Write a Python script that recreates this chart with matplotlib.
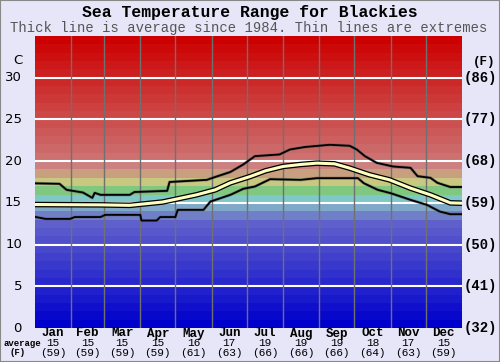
import matplotlib
matplotlib.use("Agg")
import matplotlib.pyplot as plt
import matplotlib.patheffects as pe
import numpy as np

title = "Sea Temperature Range for Blackies"
subtitle = "Thick line is average since 1984. Thin lines are extremes"
months = ["Jan", "Feb", "Mar", "Apr", "May", "Jun", "Jul", "Aug", "Sep", "Oct", "Nov", "Dec"]
month_avg_c = [15, 15, 15, 15, 16, 17, 19, 19, 19, 18, 17, 15]
month_avg_f = [59, 59, 59, 59, 61, 63, 66, 66, 66, 64, 63, 59]
month_days = [31, 28, 31, 30, 31, 30, 31, 31, 30, 31, 30, 31]
c_ticks = [0, 5, 10, 15, 20, 25, 30]
f_ticks = ["(32)", "(41)", "(50)", "(59)", "(68)", "(77)", "(86)"]

max_day = [0, 21, 27, 41, 49, 51, 56, 81, 85, 113, 115, 147, 154, 167, 178, 188, 209, 218,
           231, 252, 269, 275, 282, 292, 306, 321, 327, 338, 344, 355, 365]
max_temp = [17.34, 17.28, 16.56, 16.24, 15.6, 16.2, 15.96, 15.96, 16.3, 16.44, 17.5, 17.76,
            18.1, 18.7, 19.6, 20.6, 20.8, 21.4, 21.7, 21.96, 21.84, 21.4, 20.6, 19.8, 19.36,
            19.2, 18.2, 18.0, 17.4, 16.9, 16.9]

avg_day = [0, 56, 81, 109, 138, 154, 167, 184, 197, 212, 227, 241, 256, 269, 286, 303, 321,
           338, 355, 365]
avg_temp = [14.8, 14.76, 14.7, 15.1, 15.96, 16.56, 17.4, 18.16, 18.84, 19.36, 19.6, 19.76,
            19.68, 19.16, 18.36, 17.76, 16.76, 15.96, 15.0, 14.96]

min_day = [0, 9, 30, 34, 56, 60, 90, 91, 104, 107, 120, 122, 144, 150, 167, 178, 188, 201,
           227, 241, 276, 281, 293, 304, 321, 335, 346, 355, 365]
min_temp = [13.32, 13.08, 13.08, 13.3, 13.3, 13.56, 13.56, 12.88, 12.88, 13.3, 13.3, 14.16,
            14.16, 15.16, 15.96, 16.68, 16.96, 17.84, 17.76, 17.96, 17.96, 17.36, 16.56, 16.16,
            15.36, 14.76, 13.96, 13.64, 13.64]


def band_color(t):
    if t < 13:
        v = 8 * t
        return (v / 255, v / 255, 204 / 255)
    special = {13: (112, 128, 200), 14: (128, 168, 200), 15: (128, 200, 200),
               16: (128, 200, 128), 17: (200, 200, 128), 18: (200, 160, 128),
               19: (204, 128, 128)}
    if t in special:
        r, g, b = special[t]
        return (r / 255, g / 255, b / 255)
    g = max(0, 112 - (t - 20) * 8)
    return (204 / 255, g / 255, g / 255)


bg = "#e6e6f8"
fig = plt.figure(figsize=(5.0, 3.62), dpi=100, facecolor=bg)
ax = fig.add_axes([35 / 500, 34 / 362, 427 / 500, 292 / 362])
ax.set_xlim(0, 365)
ax.set_ylim(0, 35)

for t in range(35):
    ax.axhspan(t, t + 1, color=band_color(t), lw=0, zorder=0)

for t in c_ticks[1:]:
    ax.axhline(t, color="white", lw=1.5, zorder=1)

bounds = np.cumsum(month_days)[:-1]
for b in bounds:
    ax.axvline(b, color="#707070", lw=1, zorder=1)

ax.plot(max_day, max_temp, color="black", lw=1.3, zorder=3,
        path_effects=[pe.Stroke(linewidth=2.2, foreground="#555555", alpha=0.5), pe.Normal()])
ax.plot(min_day, min_temp, color="black", lw=1.3, zorder=3,
        path_effects=[pe.Stroke(linewidth=2.2, foreground="#555555", alpha=0.5), pe.Normal()])
ax.plot(avg_day, avg_temp, color="#ffffc0", lw=2.2, zorder=4,
        path_effects=[pe.Stroke(linewidth=4.0, foreground="black"), pe.Normal()])

ax.set_xticks([])
ax.set_yticks([])
for s in ax.spines.values():
    s.set_visible(False)

# left C labels
for t in c_ticks:
    y = ax.transData.transform((0, t))[1]
    fig.text(22 / 500, y / 362, str(t), ha="right", va="center", fontsize=9.5,
             family="DejaVu Sans", color="black")
fig.text(18 / 500, (362 - 61) / 362, "C", ha="center", va="center", fontsize=9.5,
         family="DejaVu Sans")
# right F labels
for t, lab in zip(c_ticks, f_ticks):
    y = ax.transData.transform((0, t))[1]
    fig.text(464 / 500, y / 362, lab, ha="left", va="center", fontsize=10,
             family="Liberation Mono", weight="bold")
fig.text(484 / 500, (362 - 62) / 362, "(F)", ha="center", va="center", fontsize=9,
         family="Liberation Mono", weight="bold")

# bottom month labels
starts = np.concatenate([[0], np.cumsum(month_days)[:-1]])
for i, m in enumerate(months):
    mid = starts[i] + month_days[i] / 2
    x = 35 + mid * 427 / 365
    fig.text(x / 500, (362 - 333.5) / 362, m, ha="center", va="center", fontsize=9,
             family="Liberation Mono", weight="bold")
    fig.text(x / 500, (362 - 343) / 362, str(month_avg_c[i]), ha="center", va="center",
             fontsize=8, family="Liberation Mono")
    fig.text(x / 500, (362 - 352.5) / 362, f"({month_avg_f[i]})", ha="center", va="center",
             fontsize=8, family="Liberation Mono")
fig.text(22 / 500, (362 - 343) / 362, "average", ha="center", va="center", fontsize=6.5,
         family="Liberation Mono", weight="bold")
fig.text(18 / 500, (362 - 352.5) / 362, "(F)", ha="center", va="center", fontsize=6.5,
         family="Liberation Mono", weight="bold")

fig.text(0.5, (362 - 12.5) / 362, title, ha="center", va="center", fontsize=11.8,
         family="Liberation Mono", weight="bold")
fig.text(0.498, (362 - 28) / 362, subtitle, ha="center", va="center", fontsize=10,
         family="Liberation Mono", color="#555555")

border = plt.Rectangle((0, 0), 1, 1, transform=fig.transFigure, fill=False,
                       edgecolor="#888888", lw=1.5)
fig.patches.append(border)

fig.savefig("out.png", dpi=100, facecolor=bg)
